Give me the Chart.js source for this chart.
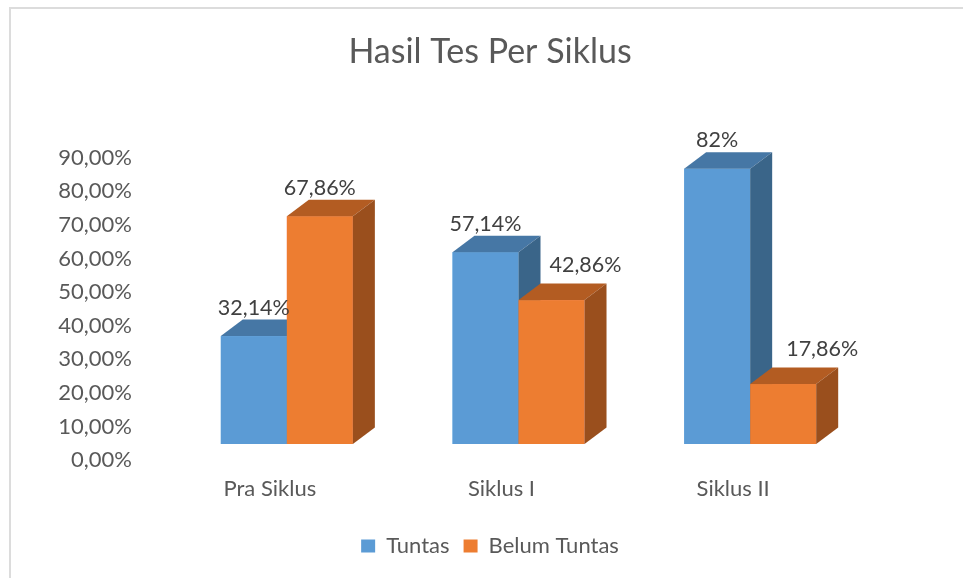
<!DOCTYPE html>
<html>
<head>
<meta charset="utf-8">
<title>Hasil Tes Per Siklus</title>
<script src="https://cdn.jsdelivr.net/npm/chart.js@4.4.1/dist/chart.umd.min.js"></script>
<style>
  html, body { margin: 0; padding: 0; background: #fff; }
  .wrap { position: relative; width: 963px; height: 578px; overflow: hidden; }
  .frame {
    position: absolute; left: 9px; top: 7px; right: -20px; bottom: -20px;
    border-top: 2px solid #dcdcdc; border-left: 2px solid #dcdcdc;
    pointer-events: none;
  }
  canvas { position: absolute; left: 0; top: 0; }
</style>
</head>
<body>
<div class="wrap">
  <canvas id="chart" width="963" height="578"></canvas>
  <div class="frame"></div>
</div>
<script>
const categories = ['Pra Siklus', 'Siklus I', 'Siklus II'];
const tuntas = [32.14, 57.14, 82];
const belumTuntas = [67.86, 42.86, 17.86];
const yTicks = [0, 10, 20, 30, 40, 50, 60, 70, 80, 90];

const FONT = 'Lato, "Open Sans", sans-serif';
const TEXT = '#595959';

function fmtPct(v, digits) {
  return v.toFixed(digits).replace('.', ',') + '%';
}

// draws the front, top and side faces of each column, then the value labels
const bars3d = {
  id: 'bars3d',
  afterDatasetsDraw(chart, args, opts) {
    const ctx = chart.ctx;
    const dx = opts.depthX, dy = opts.depthY;
    const metas = chart.data.datasets.map((d, i) => chart.getDatasetMeta(i));
    const labels = [];

    categories.forEach((cat, idx) => {
      metas.forEach((meta, di) => {
        const bar = meta.data[idx];
        if (!bar) return;
        const { x, y, base, width } = bar.getProps(['x', 'y', 'base', 'width'], true);
        const l = x - width / 2, r = x + width / 2;
        const faces = opts.faces[di];

        ctx.save();
        ctx.fillStyle = faces.front;
        ctx.fillRect(l, y, width, base - y);

        ctx.fillStyle = faces.top;
        ctx.beginPath();
        ctx.moveTo(l, y);
        ctx.lineTo(l + dx, y - dy);
        ctx.lineTo(r + dx, y - dy);
        ctx.lineTo(r, y);
        ctx.closePath();
        ctx.fill();

        ctx.fillStyle = faces.side;
        ctx.beginPath();
        ctx.moveTo(r, y);
        ctx.lineTo(r + dx, y - dy);
        ctx.lineTo(r + dx, base - dy);
        ctx.lineTo(r, base);
        ctx.closePath();
        ctx.fill();
        ctx.restore();

        const v = chart.data.datasets[di].data[idx];
        const off = opts.labelShift[di][idx];
        labels.push({
          text: fmtPct(v, Number.isInteger(v) ? 0 : 2),
          x: x + off[0],
          y: y - dy - 2 + off[1]
        });
      });
    });

    ctx.save();
    ctx.font = '21.5px ' + FONT;
    ctx.fillStyle = '#404040';
    ctx.textAlign = 'center';
    ctx.textBaseline = 'alphabetic';
    labels.forEach(lb => ctx.fillText(lb.text, lb.x, lb.y - 3));
    ctx.restore();
  }
};

new Chart(document.getElementById('chart'), {
  type: 'bar',
  data: {
    labels: categories,
    datasets: [
      { label: 'Tuntas', data: tuntas, borderWidth: 0 },
      { label: 'Belum Tuntas', data: belumTuntas, borderWidth: 0 }
    ]
  },
  options: {
    responsive: false,
    animation: false,
    devicePixelRatio: 1,
    layout: { padding: { left: 17, right: 0, top: 0, bottom: 11 } },
    datasets: {
      bar: {
        barPercentage: 1,
        categoryPercentage: 0.57,
        backgroundColor: 'rgba(0,0,0,0)'
      }
    },
    scales: {
      x: {
        grid: { display: false, drawTicks: false },
        border: { display: false },
        ticks: {
          color: TEXT,
          font: { family: FONT, size: 22 },
          padding: 32,
          labelOffset: -17
        },
        afterFit(scale) { scale.height = 77; }
      },
      y: {
        min: 0,
        max: 90,
        grid: { display: false, drawTicks: false },
        border: { display: false },
        afterBuildTicks(scale) { scale.ticks = yTicks.map(v => ({ value: v })); },
        afterFit(scale) { scale.width = 154; },
        ticks: {
          color: TEXT,
          font: { family: FONT, size: 22 },
          padding: 39,
          labelOffset: 16,
          callback: v => fmtPct(v, 2)
        }
      },
      // empty right-hand axis, only reserves the white space right of the plot
      yRight: {
        position: 'right',
        grid: { display: false, drawTicks: false },
        border: { display: false },
        ticks: { display: false },
        afterFit(scale) { scale.width = 97; }
      }
    },
    plugins: {
      title: {
        display: true,
        text: 'Hasil Tes Per Siklus',
        color: TEXT,
        font: { family: FONT, size: 34, weight: 'normal' },
        padding: { top: 32, bottom: 69 }
      },
      legend: {
        position: 'bottom',
        labels: {
          color: TEXT,
          font: { family: FONT, size: 22 },
          boxWidth: 14,
          boxHeight: 13,
          padding: 14,
          generateLabels(chart) {
            return chart.data.datasets.map((d, i) => ({
              text: d.label,
              fillStyle: i === 0 ? '#5B9BD5' : '#ED7D31',
              strokeStyle: 'rgba(0,0,0,0)',
              lineWidth: 0,
              fontColor: TEXT,
              datasetIndex: i
            }));
          }
        }
      },
      tooltip: { enabled: false },
      bars3d: {
        depthX: 22,
        depthY: 16.5,
        faces: [
          { front: '#5B9BD5', top: '#4677A5', side: '#3A6589' },
          { front: '#ED7D31', top: '#B35C22', side: '#9A4F1D' }
        ],
        labelShift: [
          [[0, 0], [0, 0], [0, 0]],
          [[0, 0], [34, -7], [39, -7]]
        ]
      }
    }
  },
  plugins: [bars3d]
});
</script>
</body>
</html>
